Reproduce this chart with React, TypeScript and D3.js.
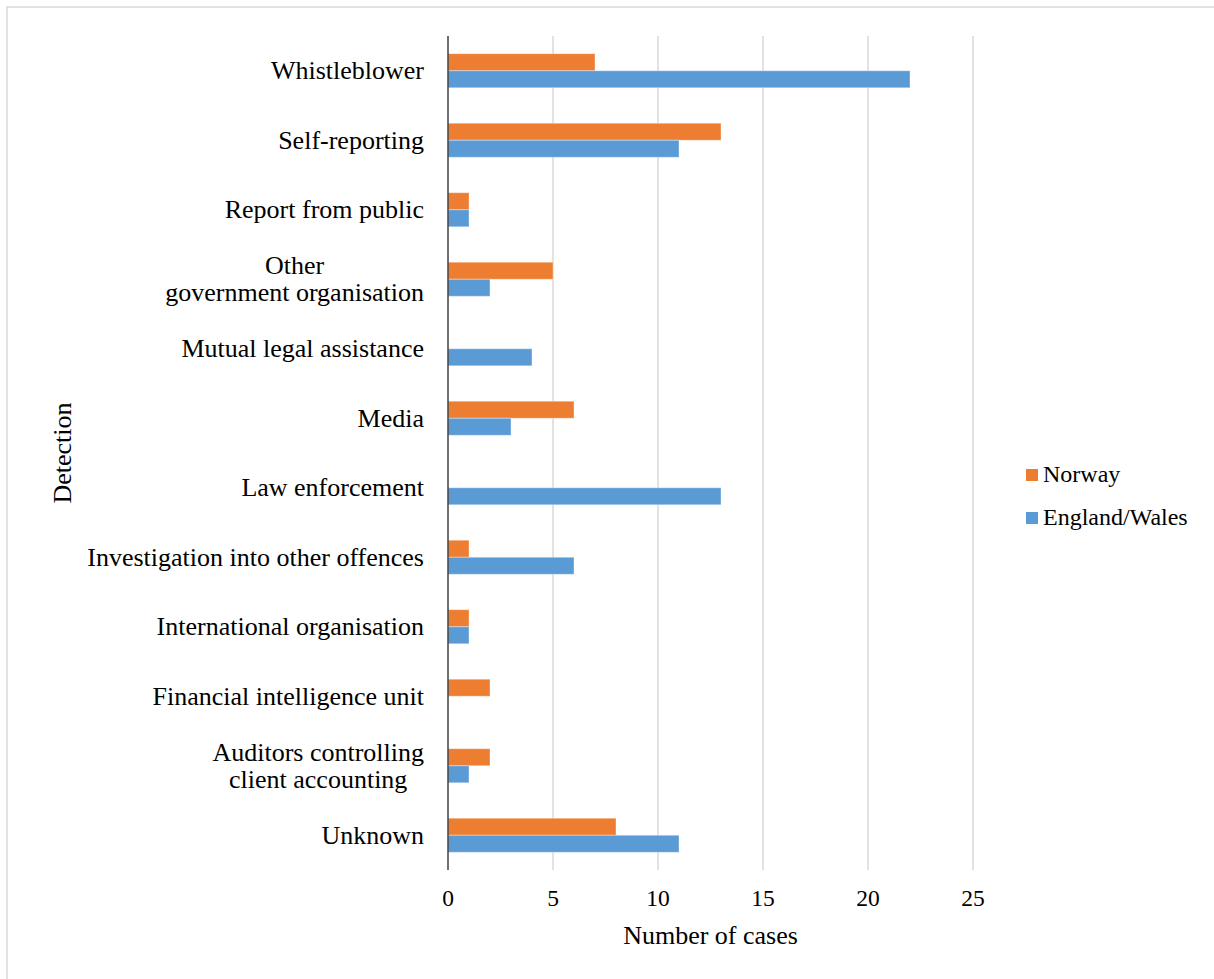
import React, { useMemo } from "react";
import * as d3 from "d3";

const categories = [
  "Whistleblower",
  "Self-reporting",
  "Report from public",
  "Other\ngovernment organisation",
  "Mutual legal assistance",
  "Media",
  "Law enforcement",
  "Investigation into other offences",
  "International organisation",
  "Financial intelligence unit",
  "Auditors controlling\nclient accounting",
  "Unknown",
];
const norway = [7, 13, 1, 5, 0, 6, 0, 1, 1, 2, 2, 8];
const englandWales = [22, 11, 1, 2, 4, 3, 13, 6, 1, 0, 1, 11];
const seriesNames = ["Norway", "England/Wales"];
const seriesColors = ["#ED7D31", "#5B9BD5"];
const xTicks = [0, 5, 10, 15, 20, 25];

const FONT = "'Liberation Serif', 'Times New Roman', serif";

export default function App() {
  const W = 1214;
  const H = 979;
  const plot = { left: 448, right: 973, top: 36, bottom: 870 };

  const x = d3.scaleLinear().domain([0, 25]).range([plot.left, plot.right]);
  const y = d3
    .scaleBand<string>()
    .domain(categories)
    .range([plot.top, plot.bottom])
    .paddingInner(0.51)
    .paddingOuter(0.255);
  const ySub = d3
    .scaleBand<string>()
    .domain(seriesNames)
    .range([0, y.bandwidth()]);

  const seriesValues = [norway, englandWales];

  const measure = useMemo(() => {
    const c = document.createElement("canvas");
    const ctx = c.getContext("2d");
    return (t: string, size: number) => {
      if (!ctx) return t.length * size * 0.45;
      ctx.font = `${size}px 'Liberation Serif'`;
      return ctx.measureText(t).width;
    };
  }, []);

  const labelSize = 26;
  const lineH = 27;
  const labelRight = plot.left - 24;

  return (
    <svg
      width={W}
      height={H}
      style={{ position: "absolute", left: 0, top: 0, display: "block", background: "#fff" }}
      fontFamily={FONT}
    >
      <rect x={0} y={0} width={W} height={H} fill="#fff" />
      <rect
        x={7}
        y={7}
        width={W + 20}
        height={H + 20}
        fill="none"
        stroke="#d9d9d9"
        strokeWidth={1.5}
      />
      {/* gridlines */}
      {xTicks
        .filter((t) => t !== 0)
        .map((t) => (
          <line
            key={t}
            x1={x(t)}
            x2={x(t)}
            y1={plot.top}
            y2={plot.bottom}
            stroke="#d9d9d9"
            strokeWidth={1.5}
          />
        ))}
      {/* bars */}
      {categories.map((cat, i) =>
        seriesNames.map((s, j) => {
          const v = seriesValues[j][i];
          if (!v) return null;
          return (
            <rect
              key={cat + s}
              x={x(0)}
              y={(y(cat) as number) + (ySub(s) as number)}
              width={x(v) - x(0)}
              height={ySub.bandwidth()}
              fill={seriesColors[j]}
              stroke="#ffffff"
              strokeOpacity={0.35}
              strokeWidth={1}
            />
          );
        })
      )}
      {/* y axis line */}
      <line
        x1={x(0)}
        x2={x(0)}
        y1={plot.top}
        y2={plot.bottom}
        stroke="#404040"
        strokeWidth={1.5}
      />
      {/* category labels */}
      {categories.map((cat) => {
        const lines = cat.split("\n");
        const cy = (y(cat) as number) + y.bandwidth() / 2;
        const n = lines.length;
        if (n === 1) {
          return (
            <text
              key={cat}
              x={labelRight}
              y={cy + 8.7}
              textAnchor="end"
              fontSize={labelSize}
              fill="#000"
            >
              {cat}
            </text>
          );
        }
        const maxW = Math.max(...lines.map((l) => measure(l, labelSize)));
        const cx = labelRight - maxW / 2;
        return (
          <text key={cat} textAnchor="middle" fontSize={labelSize} fill="#000">
            {lines.map((l, k) => (
              <tspan key={k} x={cx} y={cy + 8.7 + (k - (n - 1) / 2) * lineH}>
                {l}
              </tspan>
            ))}
          </text>
        );
      })}
      {/* x tick labels */}
      {xTicks.map((t) => (
        <text
          key={t}
          x={x(t)}
          y={906}
          textAnchor="middle"
          fontSize={23.5}
          fill="#000"
        >
          {t}
        </text>
      ))}
      {/* axis titles */}
      <text
        x={(plot.left + plot.right) / 2}
        y={944}
        textAnchor="middle"
        fontSize={26}
        fill="#000"
      >
        Number of cases
      </text>
      <text
        transform={`translate(71, ${(plot.top + plot.bottom) / 2}) rotate(-90)`}
        textAnchor="middle"
        fontSize={26}
        fill="#000"
      >
        Detection
      </text>
      {/* legend */}
      {seriesNames.map((s, j) => (
        <g key={s} transform={`translate(1026, ${469 + j * 43})`}>
          <rect x={0} y={0} width={12} height={12} fill={seriesColors[j]} />
          <text x={17} y={13} fontSize={24} fill="#000">
            {s}
          </text>
        </g>
      ))}
    </svg>
  );
}
